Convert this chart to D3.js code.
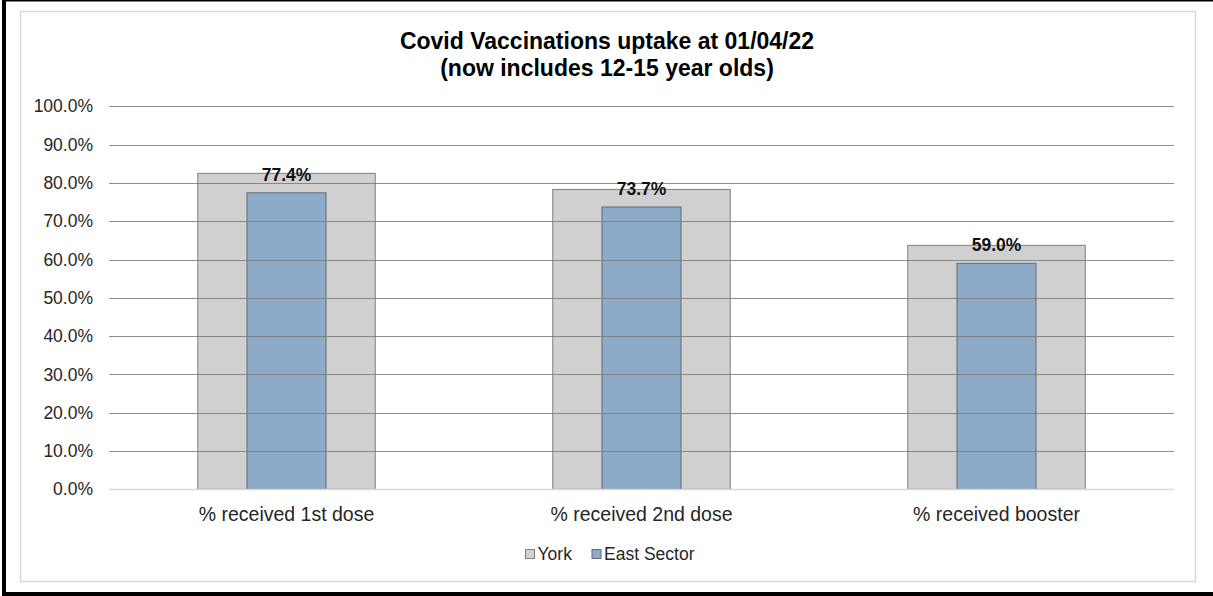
<!DOCTYPE html>
<html>
<head>
<meta charset="utf-8">
<script src="https://cdn.jsdelivr.net/npm/d3@7/dist/d3.min.js"></script>
<style>
  html, body { margin: 0; padding: 0; background: #fff; }
  svg { display: block; font-family: "Liberation Sans", Arial, sans-serif; }
</style>
</head>
<body>
<svg id="chart" width="1213" height="596"></svg>
<script>
const categories = ["% received 1st dose", "% received 2nd dose", "% received booster"];
const seriesNames = ["York", "East Sector"];
const yorkValues = [0.825, 0.783, 0.637];
const eastValues = [0.774, 0.737, 0.590];
const yTicks = [0, 0.1, 0.2, 0.3, 0.4, 0.5, 0.6, 0.7, 0.8, 0.9, 1.0];
const titleLines = ["Covid Vaccinations uptake at 01/04/22", "(now includes 12-15 year olds)"];

const svg = d3.select("#chart");
const W = 1213, H = 596;

// outer black frame (left, top, bottom)
svg.append("rect").attr("x", 2).attr("y", 0).attr("width", 4).attr("height", H).attr("fill", "#000");
svg.append("rect").attr("x", 2).attr("y", 0).attr("width", W - 2).attr("height", 1.5).attr("fill", "#000");
svg.append("rect").attr("x", 2).attr("y", 592).attr("width", W - 2).attr("height", 4).attr("fill", "#000");

// chart area border
svg.append("rect").attr("x", 20.5).attr("y", 11.5).attr("width", 1175).attr("height", 570)
  .attr("fill", "#fff").attr("stroke", "#d9d9d9").attr("stroke-width", 1.5);

const x = d3.scaleBand().domain(categories).range([109, 1174]).paddingInner(0.5).paddingOuter(0.25);
const y = d3.scaleLinear().domain([0, 1]).range([489.3, 106.3]);

// York bars
svg.append("g").selectAll("rect").data(categories).join("rect")
  .attr("x", d => x(d))
  .attr("width", x.bandwidth())
  .attr("y", (d, i) => y(yorkValues[i]))
  .attr("height", (d, i) => y(0) - y(yorkValues[i]))
  .attr("fill", "#d0d0d0").attr("stroke", "#808080").attr("stroke-width", 1);

// East Sector bars
const eastW = x.bandwidth() * 0.445;
svg.append("g").selectAll("rect").data(categories).join("rect")
  .attr("x", d => x(d) + x.bandwidth() / 2 - eastW / 2)
  .attr("width", eastW)
  .attr("y", (d, i) => y(eastValues[i]))
  .attr("height", (d, i) => y(0) - y(eastValues[i]))
  .attr("fill", "#8eaac9").attr("stroke", "#5f6b78").attr("stroke-width", 1);

// gridlines on top
const grid = svg.append("g");
grid.selectAll("line").data(yTicks.filter(t => t > 0)).join("line")
  .attr("x1", 109).attr("x2", 1174)
  .attr("y1", d => Math.round(y(d)) + 0.5).attr("y2", d => Math.round(y(d)) + 0.5)
  .attr("stroke", "#7a7a7a").attr("stroke-opacity", 0.85).attr("stroke-width", 1.2);
svg.append("line").attr("x1", 109).attr("x2", 1174)
  .attr("y1", Math.round(y(0)) + 0.5).attr("y2", Math.round(y(0)) + 0.5)
  .attr("stroke", "#d9d9d9").attr("stroke-width", 1.5);

// y axis labels
const yAxis = d3.axisLeft(y).tickValues(yTicks).tickFormat(d3.format(".1%")).tickSize(0).tickPadding(16);
const ga = svg.append("g").attr("transform", "translate(109,0)").call(yAxis);
ga.select(".domain").remove();
ga.selectAll("text").attr("font-size", 17.5).attr("fill", "#262626")
  .attr("font-family", "'Liberation Sans', Arial, sans-serif");

// x axis labels
const xAxis = d3.axisBottom(x).tickSize(0).tickPadding(18);
const gx = svg.append("g").attr("transform", `translate(0,${y(0)})`).call(xAxis);
gx.select(".domain").remove();
gx.selectAll("text").attr("font-size", 19.5).attr("fill", "#262626")
  .attr("font-family", "'Liberation Sans', Arial, sans-serif");

// data labels
svg.append("g").selectAll("text").data(categories).join("text")
  .attr("x", d => x(d) + x.bandwidth() / 2)
  .attr("y", (d, i) => y(eastValues[i]) - 12)
  .attr("text-anchor", "middle")
  .attr("font-size", 17.5).attr("font-weight", "bold").attr("fill", "#111")
  .text((d, i) => d3.format(".1%")(eastValues[i]));

// title
svg.append("g").selectAll("text").data(titleLines).join("text")
  .attr("x", 607).attr("y", (d, i) => 49 + i * 27)
  .attr("text-anchor", "middle")
  .attr("font-size", 23).attr("font-weight", "bold").attr("fill", "#000")
  .text(d => d);

// legend
const legend = [
  { name: seriesNames[0], x: 525, fill: "#d0d0d0", stroke: "#808080" },
  { name: seriesNames[1], x: 591.5, fill: "#8eaac9", stroke: "#5f6b78" }
];
const lg = svg.append("g");
legend.forEach(l => {
  lg.append("rect").attr("x", l.x + 0.5).attr("y", 549.5).attr("width", 9).attr("height", 9)
    .attr("fill", l.fill).attr("stroke", l.stroke).attr("stroke-width", 1);
  lg.append("text").attr("x", l.x + 12.5).attr("y", 559.5)
    .attr("font-size", 17.5).attr("fill", "#262626").text(l.name);
});
</script>
</body>
</html>
